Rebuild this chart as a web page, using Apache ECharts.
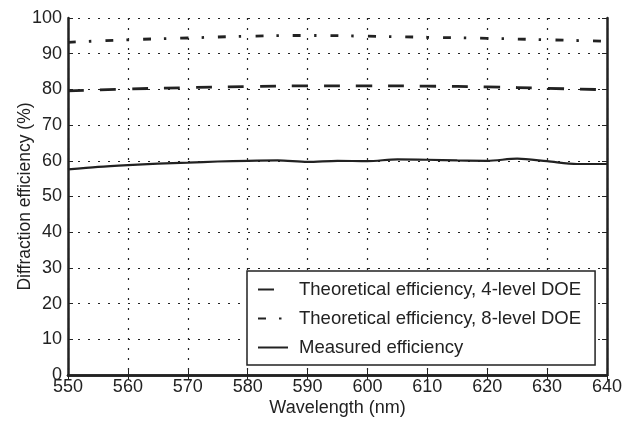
<!DOCTYPE html>
<html>
<head>
<meta charset="utf-8">
<script src="https://cdn.jsdelivr.net/npm/echarts@6/dist/echarts.min.js"></script>
<style>
  html, body { margin: 0; padding: 0; background: #fff; }
  #main { width: 635px; height: 426px; }
</style>
</head>
<body>
<div id="main"></div>
<script>
// wavelengths (nm)
var wl4 = [550, 560, 570, 580, 590, 600, 610, 620, 630, 640]
var eff4 = [79.6, 80.1, 80.5, 80.8, 81.0, 81.0, 80.9, 80.7, 80.3, 79.9]
var wl8 = [550, 560, 570, 580, 590, 600, 610, 620, 630, 640]
var eff8 = [93.2, 93.9, 94.4, 94.9, 95.1, 94.9, 94.6, 94.3, 93.9, 93.5]
var wlMeas = [550, 555, 560, 565, 570, 575, 580, 585, 590, 595, 600, 605, 610, 615, 620, 625, 630, 635, 640]
var effMeas = [57.6, 58.3, 58.8, 59.2, 59.5, 59.8, 60.0, 60.1, 59.7, 60.0, 59.9, 60.4, 60.3, 60.1, 60.0, 60.6, 59.9, 59.1, 59.1]

var seriesNames = ['Theoretical efficiency, 4-level DOE', 'Theoretical efficiency, 8-level DOE', 'Measured efficiency']

function pairs(xs, ys) {
  return xs.map(function (x, i) { return [x, ys[i]] })
}

var ink = '#222'
var font = 'Liberation Sans, Arial, sans-serif'

var chart = echarts.init(document.getElementById('main'))

var option = {
  animation: false,
  grid: { left: 68, right: 28, top: 18, bottom: 51, outerBoundsMode: 'none' },
  legend: {
    orient: 'vertical',
    left: 247,
    top: 271,
    padding: [9, 14, 8, 10],
    itemWidth: 30,
    itemHeight: 14,
    itemGap: 10,
    backgroundColor: '#fff',
    borderColor: ink,
    borderWidth: 1.5,
    borderRadius: 0,
    itemStyle: { opacity: 0 },
    data: seriesNames,
    textStyle: { color: ink, fontFamily: font, fontSize: 18.5, padding: [0, 0, 0, 6] }
  },
  xAxis: [{
    type: 'value',
    min: 550, max: 640, interval: 10,
    name: 'Wavelength (nm)',
    nameLocation: 'middle',
    nameGap: 24,
    nameMoveOverlap: false,
    nameTextStyle: { color: ink, fontFamily: font, fontSize: 18 },
    axisLine: { lineStyle: { color: ink, width: 2.5 } },
    axisTick: { inside: true, length: 5, lineStyle: { color: ink, width: 1 } },
    axisLabel: { color: ink, fontFamily: font, fontSize: 18, margin: 3 },
    splitLine: { show: true, lineStyle: { color: '#222', width: 1.2, type: [2, 8] } }
  }, {
    type: 'value',
    position: 'top',
    min: 550, max: 640, interval: 10,
    axisLine: { show: true, lineStyle: { color: ink, width: 2.5 } },
    axisTick: { inside: true, length: 5, lineStyle: { color: ink, width: 1 } },
    axisLabel: { show: false },
    splitLine: { show: false }
  }],
  yAxis: [{
    type: 'value',
    min: 0, max: 100, interval: 10,
    name: 'Diffraction efficiency (%)',
    nameLocation: 'middle',
    nameGap: 34,
    nameMoveOverlap: false,
    nameTextStyle: { color: ink, fontFamily: font, fontSize: 17.5 },
    axisLine: { show: true, lineStyle: { color: ink, width: 2.5 } },
    axisTick: { show: true, inside: true, length: 5, lineStyle: { color: ink, width: 1 } },
    axisLabel: { color: ink, fontFamily: font, fontSize: 18, margin: 6 },
    splitLine: { show: true, lineStyle: { color: '#222', width: 1.2, type: [2, 8] } }
  }, {
    type: 'value',
    position: 'right',
    min: 0, max: 100, interval: 10,
    axisLine: { show: true, lineStyle: { color: ink, width: 2.5 } },
    axisTick: { show: true, inside: true, length: 5, lineStyle: { color: ink, width: 1 } },
    axisLabel: { show: false },
    splitLine: { show: false }
  }],
  series: [{
    name: seriesNames[0],
    type: 'line',
    symbol: 'none',
    smooth: true,
    data: pairs(wl4, eff4),
    lineStyle: { color: ink, width: 2.8, type: [16, 16] },
    itemStyle: { color: ink }
  }, {
    name: seriesNames[1],
    type: 'line',
    symbol: 'none',
    smooth: true,
    data: pairs(wl8, eff8),
    lineStyle: { color: ink, width: 2.8, type: [8, 13, 2.5, 14] },
    itemStyle: { color: ink }
  }, {
    name: seriesNames[2],
    type: 'line',
    symbol: 'none',
    smooth: 0.3,
    data: pairs(wlMeas, effMeas),
    lineStyle: { color: ink, width: 2.2 },
    itemStyle: { color: ink }
  }]
}

chart.setOption(option)
</script>
</body>
</html>
